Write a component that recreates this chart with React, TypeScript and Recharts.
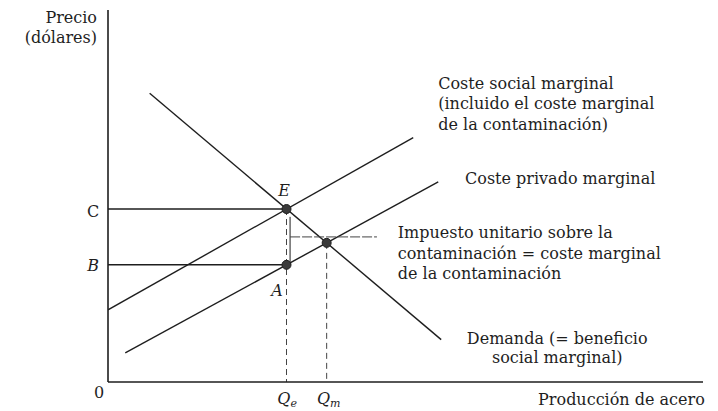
import { ComposedChart, Line, Scatter, XAxis, YAxis, ReferenceDot } from 'recharts';

// curves: quantity (x) and price (y) at both ends
const demandQ = [7, 56];
const demandP = [77.6, 11.4];
const socialQ = [0, 51.3];
const socialP = [19.4, 65.7];
const privateQ = [2.9, 55.5];
const privateP = [7.8, 53.8];

// equilibria
const qE = 30; // Q_e
const pC = 46.5; // C (precio con impuesto)
const pB = 31.5; // B (precio neto)
const qM = 36.75; // Q_m
const pM = 37.4;

// bracket showing the unit tax
const taxQ = 30.6;
const taxTop = 44.4;
const leaderP = 39;
const leaderEnd = 45.2;

const toRows = (qs: number[], ps: number[]) => qs.map((q, i) => ({ q, p: ps[i] }));

const demand = toRows(demandQ, demandP);
const social = toRows(socialQ, socialP);
const privada = toRows(privateQ, privateP);
const lineC = toRows([0, qE], [pC, pC]);
const lineB = toRows([0, qE], [pB, pB]);
const dropE = toRows([qE, qE], [pC, 0]);
const dropM = toRows([qM, qM], [pM, 0]);
const bracket = toRows([taxQ, taxQ], [taxTop, pB]);
const leader = toRows([taxQ, leaderEnd], [leaderP, leaderP]);
const points = toRows([qE, qE, qM], [pC, pB, pM]);

type Note = { q: number; p: number; lines: string[]; anchor: 'start' | 'middle' | 'end'; italic?: boolean; lh?: number; sub?: string };

const notes: Note[] = [
  { q: -1.85, p: 98.1, lines: ['Precio', '(dólares)'], anchor: 'end', lh: 20 },
  { q: 29.6, p: 51.6, lines: ['E'], anchor: 'middle', italic: true },
  { q: -2.5, p: 46.0, lines: ['C'], anchor: 'middle' },
  { q: -2.5, p: 31.5, lines: ['B'], anchor: 'middle', italic: true },
  { q: 28.4, p: 24.7, lines: ['A'], anchor: 'middle', italic: true },
  { q: -1.5, p: -2.7, lines: ['0'], anchor: 'middle' },
  { q: 30.1, p: -4.3, lines: ['Q'], sub: 'e', anchor: 'middle', italic: true },
  { q: 37.1, p: -4.3, lines: ['Q'], sub: 'm', anchor: 'middle', italic: true },
  { q: 55.5, p: 80.4, lines: ['Coste social marginal', '(incluido el coste marginal', 'de la contaminación)'], anchor: 'start', lh: 20.5 },
  { q: 60, p: 54.8, lines: ['Coste privado marginal'], anchor: 'start' },
  { q: 48.7, p: 40.3, lines: ['Impuesto unitario sobre la', 'contaminación = coste marginal', 'de la contaminación'], anchor: 'start', lh: 20.5 },
  { q: 75.5, p: 11.8, lines: ['Demanda (= beneficio', 'social marginal)'], anchor: 'middle', lh: 19 },
  { q: 100.3, p: -4.6, lines: ['Producción de acero'], anchor: 'end' },
];

const ink = '#1e1e1e';
const font = '"DejaVu Serif", serif';

function noteLabel(n: Note) {
  return (props: any) => {
    const vb = props.viewBox || {};
    const x = vb.x + (vb.width || 0) / 2;
    const y = vb.y + (vb.height || 0) / 2;
    return (
      <text
        x={x}
        y={y}
        textAnchor={n.anchor}
        fontFamily={font}
        fontSize={16}
        fontStyle={n.italic ? 'italic' : 'normal'}
        fill={ink}
        dominantBaseline="central"
      >
        {n.lines.map((l, i) => (
          <tspan key={i} x={x} dy={i === 0 ? 0 : n.lh || 20}>
            {l}
          </tspan>
        ))}
        {n.sub && (
          <tspan fontSize={11} dy={5}>
            {n.sub}
          </tspan>
        )}
      </text>
    );
  };
}

export default function App() {
  const solid = { stroke: ink, strokeWidth: 1.4, dot: false, isAnimationActive: false, type: 'linear' as const, dataKey: 'p' };
  const dashed = { ...solid, strokeWidth: 1, strokeDasharray: '6 4', stroke: '#444' };

  return (
    <div style={{ position: 'absolute', left: 0, top: 0, width: 718, height: 411, background: '#fff' }}>
      <ComposedChart width={718} height={411} margin={{ top: 10, right: 15, bottom: 0, left: 0 }}>
        <XAxis type="number" dataKey="q" domain={[0, 100]} allowDataOverflow tick={false} tickLine={false} height={29} axisLine={{ stroke: ink, strokeWidth: 1.6 }} />
        <YAxis type="number" dataKey="p" domain={[0, 100]} allowDataOverflow tick={false} tickLine={false} width={108} axisLine={{ stroke: ink, strokeWidth: 1.6 }} />
        <Line {...solid} data={demand} />
        <Line {...solid} data={social} />
        <Line {...solid} data={privada} />
        <Line {...solid} data={lineC} />
        <Line {...solid} data={lineB} />
        <Line {...dashed} data={dropE} />
        <Line {...dashed} data={dropM} />
        <Line {...solid} strokeWidth={1} data={bracket} />
        <Line {...dashed} strokeDasharray="10 2" data={leader} />
        <Scatter data={points} dataKey="p" isAnimationActive={false} shape={(p: any) => <circle cx={p.cx} cy={p.cy} r={4.5} fill="#3a3a3a" stroke={ink} />} />
        {notes.map((n, i) => (
          <ReferenceDot key={i} x={n.q} y={n.p} r={0} ifOverflow="visible" stroke="none" fill="none" label={noteLabel(n)} />
        ))}
      </ComposedChart>
    </div>
  );
}
